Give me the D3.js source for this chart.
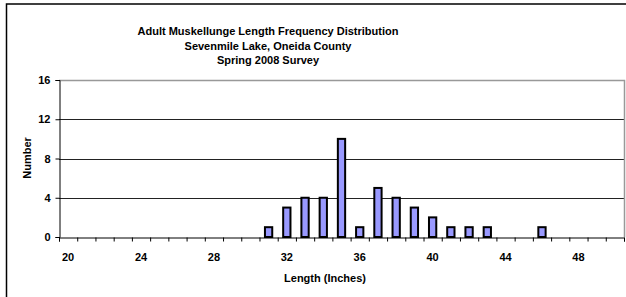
<!DOCTYPE html>
<html>
<head>
<meta charset="utf-8">
<title>Muskellunge Length Frequency</title>
<script src="https://cdn.jsdelivr.net/npm/d3@7"></script>
<style>
  body { margin: 0; background: #fff; }
  text { font-family: "Liberation Sans", Arial, sans-serif; font-weight: bold; fill: #000; }
</style>
</head>
<body>
<div id="chart"></div>
<script>
// length classes (inches) and counts
var lengths = d3.range(20, 51);
var counts  = [0,0,0,0,0,0,0,0,0,0,0,1,3,4,4,10,1,5,4,3,2,1,1,1,0,0,1,0,0,0,0];
var yTicks  = [0, 4, 8, 12, 16];
var xLabels = [20, 24, 28, 32, 36, 40, 44, 48];
var titleLines = ["Adult Muskellunge Length Frequency Distribution",
                  "Sevenmile Lake, Oneida County",
                  "Spring 2008 Survey"];

var width = 626, height = 297;
var plotL = 59, plotR = 624, plotT = 80, plotB = 237;

var svg = d3.select("#chart").append("svg")
    .attr("width", width).attr("height", height);

// outer chart frame (right/bottom run off the picture)
svg.append("rect")
    .attr("x", 6.5).attr("y", 4).attr("width", 640).attr("height", 320)
    .attr("fill", "none").attr("stroke", "#000").attr("stroke-width", 1.5);

var x = d3.scaleBand().domain(lengths).range([plotL, plotR]).paddingInner(0.6).paddingOuter(0.3);
var xb = d3.scaleLinear().domain([0, lengths.length]).range([plotL, plotR]);
var y = d3.scaleLinear().domain([0, 16]).range([plotB, plotT]);

// gridlines
svg.append("g").selectAll("line")
    .data(yTicks.filter(function(d) { return d > 0 && d < 16; }))
    .enter().append("line")
    .attr("x1", plotL).attr("x2", plotR)
    .attr("y1", function(d) { return Math.round(y(d)) + 0.5; })
    .attr("y2", function(d) { return Math.round(y(d)) + 0.5; })
    .attr("stroke", "#222").attr("stroke-width", 1);

// plot area border top / right (gray)
svg.append("path")
    .attr("d", "M" + plotL + "," + (plotT + 0.5) + "H" + (plotR + 0.5) + "V" + plotB)
    .attr("fill", "none").attr("stroke", "#999").attr("stroke-width", 1.5);

// bars
svg.append("g").selectAll("rect")
    .data(lengths.map(function(l, i) { return { len: l, n: counts[i] }; })
          .filter(function(d) { return d.n > 0; }))
    .enter().append("rect")
    .attr("x", function(d) { return x(d.len); })
    .attr("width", x.bandwidth())
    .attr("y", function(d) { return y(d.n); })
    .attr("height", function(d) { return y(0) - y(d.n); })
    .attr("fill", "#9999ff").attr("stroke", "#000").attr("stroke-width", 2);

// y axis
var yAxis = svg.append("g").attr("transform", "translate(" + (plotL + 0.5) + ",0)")
    .call(d3.axisLeft(y).tickValues(yTicks).tickSize(4).tickPadding(5));
yAxis.select(".domain").attr("stroke", "#000");
yAxis.selectAll(".tick line").attr("stroke", "#000");
yAxis.selectAll("text").style("font-size", "11px").attr("font-family", null).attr("fill", "#000");

// x axis: ticks on category boundaries, labels at category centres
var xAxis = svg.append("g").attr("transform", "translate(0," + (plotB + 0.5) + ")")
    .call(d3.axisBottom(xb).tickValues(d3.range(0, lengths.length + 1)).tickSize(4).tickFormat(""));
xAxis.select(".domain").attr("stroke", "#000");
xAxis.selectAll(".tick line").attr("stroke", "#000");

svg.append("g").selectAll("text")
    .data(xLabels).enter().append("text")
    .attr("x", function(d) { return x(d) + x.bandwidth() / 2; })
    .attr("y", 261)
    .attr("text-anchor", "middle")
    .style("font-size", "11px")
    .text(function(d) { return d; });

// titles
svg.append("g").selectAll("text")
    .data(titleLines).enter().append("text")
    .attr("x", 268)
    .attr("y", function(d, i) { return 35 + i * 14.5; })
    .attr("text-anchor", "middle")
    .style("font-size", "11px")
    .text(function(d) { return d; });

svg.append("text")
    .attr("x", 325).attr("y", 282)
    .attr("text-anchor", "middle")
    .style("font-size", "11px")
    .text("Length (Inches)");

svg.append("text")
    .attr("transform", "translate(31,158) rotate(-90)")
    .attr("text-anchor", "middle")
    .style("font-size", "11px")
    .text("Number");
</script>
</body>
</html>
